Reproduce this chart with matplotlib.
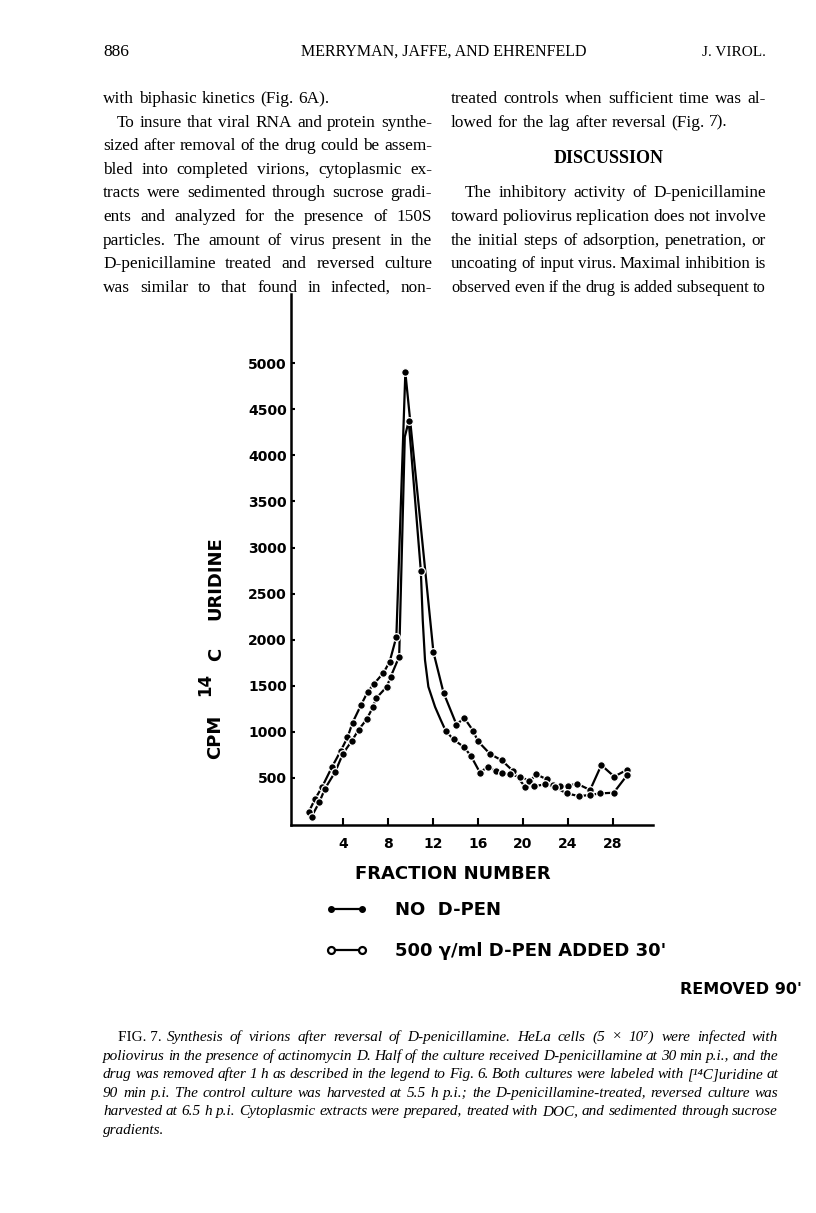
import numpy as np
import matplotlib
matplotlib.use('Agg')
import matplotlib.pyplot as plt
from matplotlib.lines import Line2D

# ---- data (fraction number vs CPM 14C uridine) ----
# no D-pen (filled dots)
frac_nodpen = [0.95, 1.5, 2.15, 3.0, 3.8, 4.4, 4.85, 5.6, 6.2, 6.75, 7.6, 8.15, 8.75,
               9.55, 12.05, 12.95, 14.1, 14.8, 15.6, 16.0, 17.1, 18.15, 19.1,
               20.2, 21.2, 22.15, 22.7, 23.3, 24.0, 24.8, 26.0, 27.0, 28.15, 29.3]
cpm_nodpen = [130, 270, 405, 615, 795, 940, 1100, 1290, 1435, 1520, 1640, 1760, 2030,
              4900, 1865, 1425, 1080, 1150, 1010, 900, 760, 690, 580,
              405, 540, 485, 425, 412, 412, 440, 370, 640, 515, 590]

# 500 y/ml D-pen added 30', removed 90' (open circles)
frac_dpen = [1.2, 1.9, 2.4, 3.3, 4.0, 4.8, 5.4, 6.1, 6.65, 6.95, 7.9, 8.25, 9.0,
             9.85, 10.93, 13.15, 13.84, 14.8, 15.4, 16.2, 16.87, 17.6, 18.15, 18.9,
             19.8, 20.6, 21.0, 22.0, 22.9, 23.9, 25.0, 25.95, 26.9, 28.1, 29.3]
cpm_dpen = [80, 240, 385, 565, 765, 905, 1025, 1135, 1265, 1365, 1490, 1600, 1815,
            4370, 2745, 1010, 918, 832, 737, 557, 622, 578, 557, 539,
            510, 470, 412, 430, 400, 333, 304, 315, 333, 340, 531]
# unmarked bends of the hand drawn line
bend_frac_dpen = [9.5, 11.1, 11.3, 11.6, 12.2, 12.7]
bend_cpm_dpen = [4200, 2210, 1780, 1490, 1270, 1130]

yticks = [500, 1000, 1500, 2000, 2500, 3000, 3500, 4000, 4500, 5000]
xticks = [4, 8, 12, 16, 20, 24, 28]

header = ["886", "MERRYMAN, JAFFE, AND EHRENFELD", "J. VIROL."]
left_col = [
    ("with biphasic kinetics (Fig. 6A).", False, 0),
    ("To insure that viral RNA and protein synthe-", True, 14),
    ("sized after removal of the drug could be assem-", True, 0),
    ("bled into completed virions, cytoplasmic ex-", True, 0),
    ("tracts were sedimented through sucrose gradi-", True, 0),
    ("ents and analyzed for the presence of 150S", True, 0),
    ("particles. The amount of virus present in the", True, 0),
    ("D-penicillamine treated and reversed culture", True, 0),
    ("was similar to that found in infected, non-", True, 0),
]
right_col = [
    ("treated controls when sufficient time was al-", True, 0),
    ("lowed for the lag after reversal (Fig. 7).", False, 0),
    None,
    None,
    ("The inhibitory activity of D-penicillamine", True, 14),
    ("toward poliovirus replication does not involve", True, 0),
    ("the initial steps of adsorption, penetration, or", True, 0),
    ("uncoating of input virus. Maximal inhibition is", True, 0),
    ("observed even if the drug is added subsequent to", True, 0),
]
caption = [
    "Synthesis of virions after reversal of D-penicillamine. HeLa cells (5 × 10\u2077) were infected with",
    "poliovirus in the presence of actinomycin D. Half of the culture received D-penicillamine at 30 min p.i., and the",
    "drug was removed after 1 h as described in the legend to Fig. 6. Both cultures were labeled with [\u00b9\u2074C]uridine at",
    "90 min p.i. The control culture was harvested at 5.5 h p.i.; the D-penicillamine-treated, reversed culture was",
    "harvested at 6.5 h p.i. Cytoplasmic extracts were prepared, treated with DOC, and sedimented through sucrose",
    "gradients.",
]

W, H = 816, 1213
fig = plt.figure(figsize=(8.16, 12.13), dpi=100)
fig.patch.set_facecolor('white')
rend = fig.canvas.get_renderer()
serif = ['Liberation Serif', 'DejaVu Serif']


def fx(px):
    return px / W


def fy(py):
    return 1 - py / H


def words_line(words, x0, x1, y, size, style='normal', justify=True, min_gap=3.5):
    while True:
        objs = [fig.text(0, 0, w, fontsize=size, family=serif, style=style,
                         va='baseline', ha='left') for w in words]
        widths = [o.get_window_extent(rend).width for o in objs]
        if justify and len(words) > 1:
            gap = (x1 - x0 - sum(widths)) / (len(words) - 1)
        else:
            gap = size * 100 / 72 * 0.28
        if gap >= min_gap or size < 8:
            break
        for o in objs:
            o.remove()
        size -= 0.2
    x = x0
    for o, w in zip(objs, widths):
        o.set_position((fx(x), fy(y)))
        x += w + gap


# header
fig.text(fx(103), fy(56), header[0], fontsize=12.5, family=serif, va='baseline')
fig.text(fx(444), fy(56), header[1], fontsize=11.5, family=serif, va='baseline', ha='center')
fig.text(fx(766), fy(56), header[2], fontsize=11, family=serif, va='baseline', ha='right')

# body text columns
base0, lstep = 103, 23.6
body_size = 12.4
for i, item in enumerate(left_col):
    txt, just, ind = item
    words_line(txt.split(), 103 + ind, 432, base0 + i * lstep, body_size, justify=just)
for i, item in enumerate(right_col):
    if item is None:
        continue
    txt, just, ind = item
    words_line(txt.split(), 451 + ind, 766, base0 + i * lstep, body_size, justify=just)
fig.text(fx(609), fy(base0 + 2.55 * lstep), "DISCUSSION", fontsize=13, family=serif,
         weight='bold', va='baseline', ha='center')

# caption
cap0, cstep = 1041, 18.6
cap_size = 11.0
t = fig.text(fx(118), fy(cap0), "FIG. 7.", fontsize=cap_size, family=serif, va='baseline')
xs = 118 + t.get_window_extent(rend).width + 5
for i, line in enumerate(caption):
    x0 = xs if i == 0 else 103
    words_line(line.split(), x0, 778, cap0 + i * cstep, cap_size, style='italic',
               justify=(i < len(caption) - 1), min_gap=3.0)

# ---- chart ----
ax = fig.add_axes([fx(291), fy(825), (653 - 291) / W, (825 - 294) / H])
ax.set_xlim(-0.63, 31.6)
ax.set_ylim(-10, 5750)
for s in ['top', 'right']:
    ax.spines[s].set_visible(False)
for s in ['left', 'bottom']:
    ax.spines[s].set_linewidth(1.8)

# line paths
fa = np.array(frac_nodpen)
ca = np.array(cpm_nodpen)
ax.plot(fa, ca, color='black', lw=1.6, zorder=2)
fb = np.concatenate([frac_dpen, bend_frac_dpen])
cb = np.concatenate([cpm_dpen, bend_cpm_dpen])
order = np.argsort(fb)
ax.plot(fb[order], cb[order], color='black', lw=1.6, zorder=2)
# markers
ax.plot(fa, ca, ls='none', marker='o', ms=5.5, mfc='black', mec='white', mew=0.9, zorder=3)
ax.plot(frac_dpen, cpm_dpen, ls='none', marker='o', ms=5.5, mfc='black', mec='white',
        mew=0.9, zorder=3)

tickfont = dict(family='DejaVu Sans', weight='bold', size=10)
ax.set_yticks(yticks)
ax.set_yticklabels([str(v) for v in yticks], **tickfont)
ax.set_xticks(xticks)
ax.set_xticklabels([str(v) for v in xticks], **tickfont)
ax.tick_params(axis='y', direction='in', length=3, width=1.5, pad=3)
ax.tick_params(axis='x', direction='in', length=5, width=1.5, pad=9)

ax.set_xlabel("FRACTION NUMBER", family='DejaVu Sans', weight='bold', fontsize=13)
ax.xaxis.set_label_coords((453 - 291) / 362, -0.075)

lab = dict(family='DejaVu Sans', weight='bold', rotation=90, ha='center', va='center')
fig.text(fx(215), fy(737), "CPM", fontsize=13, **lab)
fig.text(fx(205), fy(684), "14", fontsize=12, **lab)
fig.text(fx(216), fy(654), "C", fontsize=13, **lab)
fig.text(fx(215), fy(578), "URIDINE", fontsize=13, **lab)

handles = [
    Line2D([], [], color='black', lw=1.6, marker='o', ms=4, mfc='black', mec='black'),
    Line2D([], [], color='black', lw=1.6, marker='o', ms=5, mfc='white', mec='black', mew=1.6),
]
fig.legend(handles, ["NO  D-PEN", "500 \u03b3/ml D-PEN ADDED 30'"], loc='upper left',
           bbox_to_anchor=(fx(326), fy(901)), frameon=False, numpoints=2,
           handlelength=2.3, handletextpad=1.5, labelspacing=1.3, borderpad=0,
           borderaxespad=0, prop=dict(family='DejaVu Sans', weight='bold', size=13))
fig.text(fx(680), fy(990), "REMOVED 90'", family='DejaVu Sans', weight='bold',
         fontsize=11.5, va='center')

fig.savefig('out.png', dpi=100, facecolor='white')
